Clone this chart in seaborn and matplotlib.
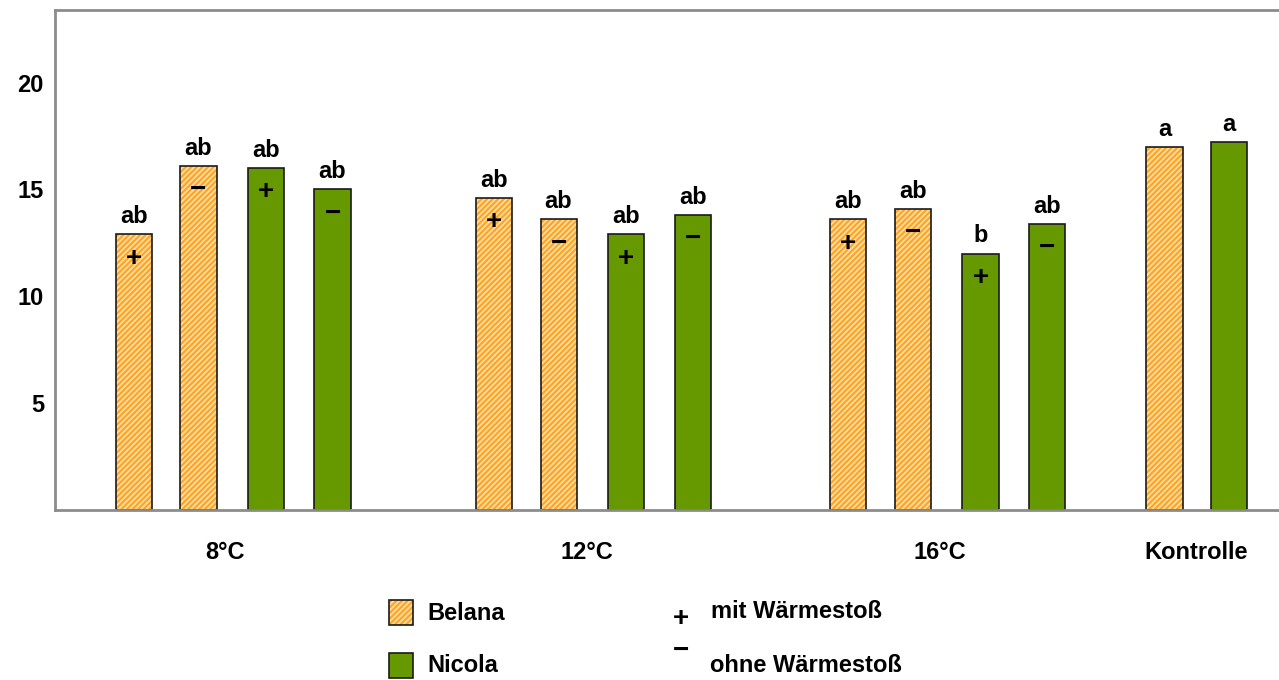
import matplotlib
matplotlib.use("Agg")
import matplotlib.pyplot as plt
from matplotlib.patches import Rectangle
import numpy as np
import pandas as pd
import seaborn as sns

# ---- data -------------------------------------------------------------
gruppen = ["8°C", "8°C", "8°C", "8°C",
           "12°C", "12°C", "12°C", "12°C",
           "16°C", "16°C", "16°C", "16°C",
           "Kontrolle", "Kontrolle"]
sorten = ["Belana", "Belana", "Nicola", "Nicola",
          "Belana", "Belana", "Nicola", "Nicola",
          "Belana", "Belana", "Nicola", "Nicola",
          "Belana", "Nicola"]
waermestoss = ["+", "−", "+", "−",
               "+", "−", "+", "−",
               "+", "−", "+", "−",
               "", ""]
werte = [12.9, 16.1, 16.0, 15.0,
         14.6, 13.6, 12.9, 13.8,
         13.6, 14.1, 12.0, 13.4,
         17.0, 17.2]
buchstaben = ["ab", "ab", "ab", "ab",
              "ab", "ab", "ab", "ab",
              "ab", "ab", "b", "ab",
              "a", "a"]
gruppen_namen = ["8°C", "12°C", "16°C", "Kontrolle"]
y_ticks = [5, 10, 15, 20]

# ---- layout -----------------------------------------------------------
gruppen_start = {"8°C": 0.0, "12°C": 5.44, "16°C": 10.79, "Kontrolle": 15.57}
slot_versatz = [0.0, 0.975, 2.0, 3.0]
label_pos = [1.37, 6.85, 12.18, 16.05]

pos = []
zaehler = {}
for g in gruppen:
    i = zaehler.get(g, 0)
    zaehler[g] = i + 1
    pos.append(gruppen_start[g] + slot_versatz[i])

df = pd.DataFrame({"pos": pos, "Gruppe": gruppen, "Sorte": sorten,
                   "Wärmestoß": waermestoss, "Wert": werte,
                   "Buchstabe": buchstaben})

ORANGE = "#FFA42A"
ORANGE_HATCH = "#FFE2A6"
GRUEN = "#669900"
RAND = "#1a1a1a"
ACHSE = "#8c8c8c"
FS = 17

sns.set_theme(style="white")
plt.rcParams["font.family"] = ["Liberation Sans", "DejaVu Sans"]
plt.rcParams["font.weight"] = "bold"
plt.rcParams["hatch.linewidth"] = 1.2

fig = plt.figure(figsize=(12.79, 6.80), dpi=100)
ax = fig.add_axes([55 / 1279, 1 - 510 / 680, 1 - 55 / 1279, 500 / 680])

min_abstand = np.min(np.diff(np.sort(df["pos"].values)))
sns.barplot(data=df, x="pos", y="Wert", hue="Sorte",
            palette={"Belana": ORANGE, "Nicola": GRUEN}, saturation=1,
            native_scale=True, dodge=False, width=0.545 / min_abstand,
            edgecolor=RAND, linewidth=1.2, legend=False, ax=ax,
            errorbar=None)

txt_kw = dict(fontsize=FS, fontweight="bold", color="black")
zeichen_kw = dict(fontsize=20, fontweight="bold", color="black")

for p in list(ax.patches):
    xc = p.get_x() + p.get_width() / 2
    row = df.iloc[int(np.argmin(np.abs(df["pos"].values - xc)))]
    top = p.get_y() + p.get_height()
    if row["Sorte"] == "Belana":
        p.set_facecolor(ORANGE)
        p.set_hatch("//////")
        p.set_edgecolor(ORANGE_HATCH)
        p.set_linewidth(0)
        ax.add_patch(Rectangle((p.get_x(), p.get_y()), p.get_width(),
                               p.get_height(), fill=False,
                               edgecolor=RAND, linewidth=1.2, zorder=p.get_zorder() + 0.1))
    ax.annotate(row["Buchstabe"], (xc, top), xytext=(0, 8),
                textcoords="offset points", ha="center", va="baseline", **txt_kw)
    if row["Wärmestoß"]:
        ax.annotate(row["Wärmestoß"], (xc, top), xytext=(0, -17.5),
                    textcoords="offset points", ha="center", va="center",
                    **zeichen_kw)

ax.set_xlim(-1.193, 17.30)
ax.set_ylim(0, 23.4)
ax.set_yticks(y_ticks)
ax.set_yticklabels([str(t) for t in y_ticks], **txt_kw)
ax.set_xticks(label_pos)
ax.set_xticklabels(gruppen_namen, **txt_kw)
ax.tick_params(axis="both", length=0)
ax.tick_params(axis="y", pad=8)
ax.tick_params(axis="x", pad=22)
ax.set_xlabel("")
ax.set_ylabel("")
for s in ["left", "bottom", "top"]:
    ax.spines[s].set_color(ACHSE)
    ax.spines[s].set_linewidth(2)
ax.spines["right"].set_visible(False)
ax.grid(False)

# ---- legend -----------------------------------------------------------
def px(x, y):
    return x / 1279, 1 - y / 680

x0, y0 = px(389, 625)
fig.patches.append(Rectangle((x0, y0), 24 / 1279, 25 / 680, transform=fig.transFigure,
                             facecolor=ORANGE, edgecolor=ORANGE_HATCH, hatch="//////",
                             linewidth=0, figure=fig))
fig.patches.append(Rectangle((x0, y0), 24 / 1279, 25 / 680, transform=fig.transFigure,
                             fill=False, edgecolor=RAND, linewidth=1.2, figure=fig))
x0, y0 = px(389, 678)
fig.patches.append(Rectangle((x0, y0), 24 / 1279, 25 / 680, transform=fig.transFigure,
                             facecolor=GRUEN, edgecolor=RAND, linewidth=1.2, figure=fig))

fig.text(*px(427, 613), "Belana", ha="left", va="center", **txt_kw)
fig.text(*px(427, 666), "Nicola", ha="left", va="center", **txt_kw)
fig.text(*px(681, 619), "+", ha="center", va="center", **zeichen_kw)
fig.text(*px(711, 612), "mit Wärmestoß", ha="left", va="center", **txt_kw)
fig.text(*px(681, 651), "−", ha="center", va="center", **zeichen_kw)
fig.text(*px(710, 666), "ohne Wärmestoß", ha="left", va="center", **txt_kw)

fig.savefig("out.png", dpi=100)
